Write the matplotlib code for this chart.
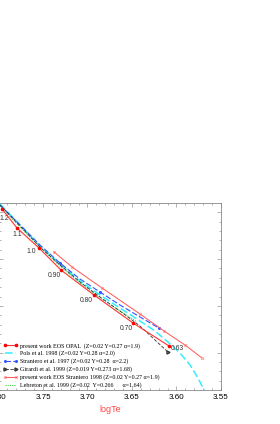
import matplotlib
matplotlib.use("Agg")
import matplotlib.pyplot as plt
from matplotlib.ticker import MultipleLocator

# ---- data (logTe, logL) ----
opal_te = [3.7961, 3.7792, 3.7545, 3.7298, 3.6927, 3.6489, 3.6084]
opal_l = [0.536, 0.333, 0.119, -0.117, -0.384, -0.683, -0.929]
masses = ["1.2", "1.1", "1.0", "0.90", "0.80", "0.70", "0.63"]

stra_eos_te = [3.7376, 3.7174, 3.6837, 3.6410, 3.6140, 3.5904, 3.5713]
stra_eos_l = [0.076, -0.084, -0.309, -0.587, -0.769, -0.919, -1.058]

stra97_te = [3.7983, 3.7758, 3.7534, 3.7309, 3.7084, 3.6860, 3.6635, 3.6410, 3.6197]
stra97_l = [0.579, 0.365, 0.151, -0.042, -0.213, -0.352, -0.491, -0.619, -0.737]

pols_te = [3.7983, 3.7758, 3.7534, 3.7309, 3.7084, 3.6860, 3.6635, 3.6410,
           3.6242, 3.6096, 3.5961, 3.5848, 3.5758, 3.5669]
pols_l = [0.589, 0.365, 0.140, -0.052, -0.234, -0.384, -0.523, -0.662,
          -0.769, -0.887, -1.004, -1.133, -1.272, -1.443]

gir_te = [3.7983, 3.7758, 3.7534, 3.7309, 3.7084, 3.6860, 3.6635, 3.6410, 3.6242, 3.6096]
gir_l = [0.579, 0.354, 0.129, -0.063, -0.245, -0.405, -0.555, -0.716, -0.865, -0.994]

leb_te = [3.7983, 3.7758, 3.7534, 3.7309, 3.7084, 3.6860, 3.6635, 3.6444]
leb_l = [0.568, 0.343, 0.129, -0.074, -0.256, -0.416, -0.555, -0.673]

labels = [
    "present work EOS OPAL  (Z=0.02 Y=0.27 \u03b1=1.9)",
    "Pols et al. 1998 (Z=0.02 Y=0.28 \u03b1=2.0)",
    "Straniero et al. 1997 (Z=0.02 Y=0.28  \u03b1=2.2)",
    "Girardi et al. 1999 (Z=0.019 Y=0.273 \u03b1=1.68)",
    "present work EOS Straniero 1998 (Z=0.02 Y=0.27 \u03b1=1.9)",
    "Lebreton et al. 1999 (Z=0.02  Y=0.266      \u03b1=1.64)",
]

fig = plt.figure(figsize=(2.8, 4.24), dpi=100)
ax = fig.add_axes([-1.5 / 280, 34 / 424, 222.5 / 280, 187 / 424])

h1, = ax.plot(opal_te, opal_l, color="#ff3333", lw=0.8, marker="o", ms=1.6,
              mec="#ff0000", mfc="#ff0000", zorder=5)
h2, = ax.plot(pols_te, pols_l, color="#33eeff", lw=1.1, ls=(0, (5, 2)), zorder=3)
h3, = ax.plot(stra97_te, stra97_l, color="#3355ff", lw=0.8, ls=(0, (5, 2)),
              marker="o", ms=1.2, markevery=[3, 5, 8], zorder=4)
h4, = ax.plot(gir_te, gir_l, color="#333333", lw=0.6, ls=(0, (4, 2)),
              marker=">", ms=2.2, mfc="none", markevery=[len(gir_te) - 1], zorder=4)
h5, = ax.plot(stra_eos_te, stra_eos_l, color="#ff5555", lw=0.7, marker="o",
              ms=1.8, mfc="none", mec="#ff8888", mew=0.5, zorder=4)
h6, = ax.plot(leb_te, leb_l, color="#44cc44", lw=0.8, ls=(0, (1, 1)), zorder=3)

# mass labels next to OPAL track points (offsets in pixels)
offsets = [(2, -10), (0, -7), (-8, -4), (-7, -5), (-8, -5), (-7, -6), (8, -3)]
for te, l, m, off in zip(opal_te, opal_l, masses, offsets):
    ax.annotate(m, (te, l), xytext=off, textcoords="offset pixels",
                ha="center", va="center", fontsize=4.9, color="#333333",
                family="Liberation Sans")

ax.set_xlim(3.80, 3.55)
ax.set_ylim(-1.4, 0.6)
ax.xaxis.set_major_locator(MultipleLocator(0.05))
ax.xaxis.set_minor_locator(MultipleLocator(0.01))
ax.yaxis.set_major_locator(MultipleLocator(0.5))
ax.yaxis.set_minor_locator(MultipleLocator(0.1))
ax.xaxis.set_major_formatter(plt.FormatStrFormatter("%.2f"))
ax.tick_params(which="both", direction="in", top=True, right=True,
               color="#777777", width=0.4, labelsize=5.8, pad=3,
               labelleft=False)
ax.tick_params(which="major", length=3)
ax.tick_params(which="minor", length=1.5)
for lab in ax.get_xticklabels():
    lab.set_family("Liberation Sans")
for sp in ax.spines.values():
    sp.set_color("#888888")
    sp.set_linewidth(0.6)

ax.set_xlabel("logTe", color="#ff4444", fontsize=6.5, family="Liberation Sans",
              labelpad=2.5)

leg = ax.legend([h1, h2, h3, h4, h5, h6], labels, loc="upper left",
                bbox_to_anchor=(0.01, 0.265), frameon=False,
                prop={"family": "Liberation Serif", "size": 4.3},
                handlelength=2.4, handletextpad=0.5, labelspacing=0.35,
                numpoints=2, borderaxespad=0)

fig.savefig("out.png", dpi=100)
